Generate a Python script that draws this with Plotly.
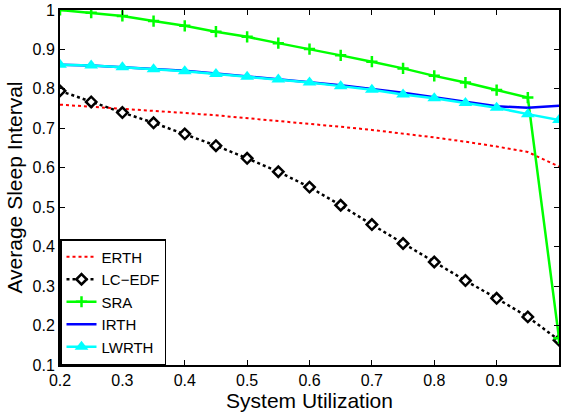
import plotly.graph_objects as go

utilization = [0.2, 0.25, 0.3, 0.35, 0.4, 0.45, 0.5, 0.55, 0.6, 0.65, 0.7, 0.75, 0.8, 0.85, 0.9, 0.95, 1.0]

erth = [0.760, 0.755, 0.749, 0.744, 0.739, 0.733, 0.726, 0.719, 0.712, 0.704, 0.696, 0.687, 0.677, 0.666, 0.654, 0.640, 0.603]
lc_edf = [0.795, 0.767, 0.740, 0.714, 0.686, 0.656, 0.624, 0.590, 0.551, 0.505, 0.456, 0.408, 0.361, 0.314, 0.269, 0.222, 0.163]
sra = [1.000, 0.993, 0.985, 0.972, 0.960, 0.945, 0.932, 0.916, 0.901, 0.885, 0.869, 0.852, 0.833, 0.816, 0.797, 0.778, 0.168]
irth = [0.861, 0.859, 0.855, 0.851, 0.846, 0.839, 0.832, 0.825, 0.817, 0.809, 0.800, 0.790, 0.779, 0.767, 0.756, 0.752, 0.757]
lwrth = [0.861, 0.859, 0.855, 0.850, 0.845, 0.838, 0.831, 0.824, 0.816, 0.807, 0.798, 0.786, 0.776, 0.764, 0.752, 0.736, 0.721]

x_ticks = [0.2, 0.3, 0.4, 0.5, 0.6, 0.7, 0.8, 0.9, 1.0]
x_tick_labels = ["0.2", "0.3", "0.4", "0.5", "0.6", "0.7", "0.8", "0.9", "1"]
y_ticks = [0.1, 0.2, 0.3, 0.4, 0.5, 0.6, 0.7, 0.8, 0.9, 1.0]
y_tick_labels = ["0.1", "0.2", "0.3", "0.4", "0.5", "0.6", "0.7", "0.8", "0.9", "1"]

FONT = "Arial, Liberation Sans, Helvetica, sans-serif"

fig = go.Figure()
fig.add_trace(go.Scatter(
    x=utilization, y=erth, name="ERTH", mode="lines",
    line=dict(color="#ff0000", width=2, dash="dot"),
))
fig.add_trace(go.Scatter(
    x=utilization, y=lc_edf, name="LC\u2212EDF", mode="lines+markers",
    line=dict(color="#000000", width=2.5, dash="dot"),
    marker=dict(symbol="diamond", size=8, color="#ffffff",
                line=dict(color="#000000", width=2.5)),
))
fig.add_trace(go.Scatter(
    x=utilization, y=sra, name="SRA", mode="lines+markers",
    line=dict(color="#00ff00", width=2.5),
    marker=dict(symbol="cross-thin-open", size=8,
                line=dict(color="#00ff00", width=2.5)),
))
fig.add_trace(go.Scatter(
    x=utilization, y=irth, name="IRTH", mode="lines",
    line=dict(color="#0000ff", width=2.5),
))
fig.add_trace(go.Scatter(
    x=utilization, y=lwrth, name="LWRTH", mode="lines+markers",
    line=dict(color="#00ffff", width=2.5),
    marker=dict(symbol="triangle-up", size=12, color="#00ffff",
                line=dict(color="#00ffff", width=0)),
))

axis_common = dict(
    showline=True, linecolor="#000000", linewidth=2, mirror="ticks",
    ticks="inside", ticklen=5, tickwidth=1, tickcolor="#000000",
    showgrid=False, zeroline=False,
    tickfont=dict(family=FONT, size=16, color="#000000"),
)

fig.update_layout(
    width=563, height=414,
    margin=dict(l=60, r=2, t=9, b=49),
    paper_bgcolor="#ffffff", plot_bgcolor="#ffffff",
    font=dict(family=FONT, color="#000000"),
    xaxis=dict(range=[0.2, 1.0], tickvals=x_ticks, ticktext=x_tick_labels,
               title=dict(text="System Utilization", font=dict(family=FONT, size=21), standoff=0),
               **axis_common),
    yaxis=dict(range=[0.1, 1.0], tickvals=y_ticks, ticktext=y_tick_labels,
               title=dict(text="Average Sleep Interval", font=dict(family=FONT, size=21), standoff=4),
               **axis_common),
    legend=dict(x=0, y=0, xanchor="left", yanchor="bottom",
                bgcolor="#ffffff", bordercolor="#000000", borderwidth=1.5,
                font=dict(family=FONT, size=15, color="#000000"),
                itemwidth=30, tracegroupgap=0,
                traceorder="normal"),
    showlegend=True,
)

fig.write_html("out.html")
